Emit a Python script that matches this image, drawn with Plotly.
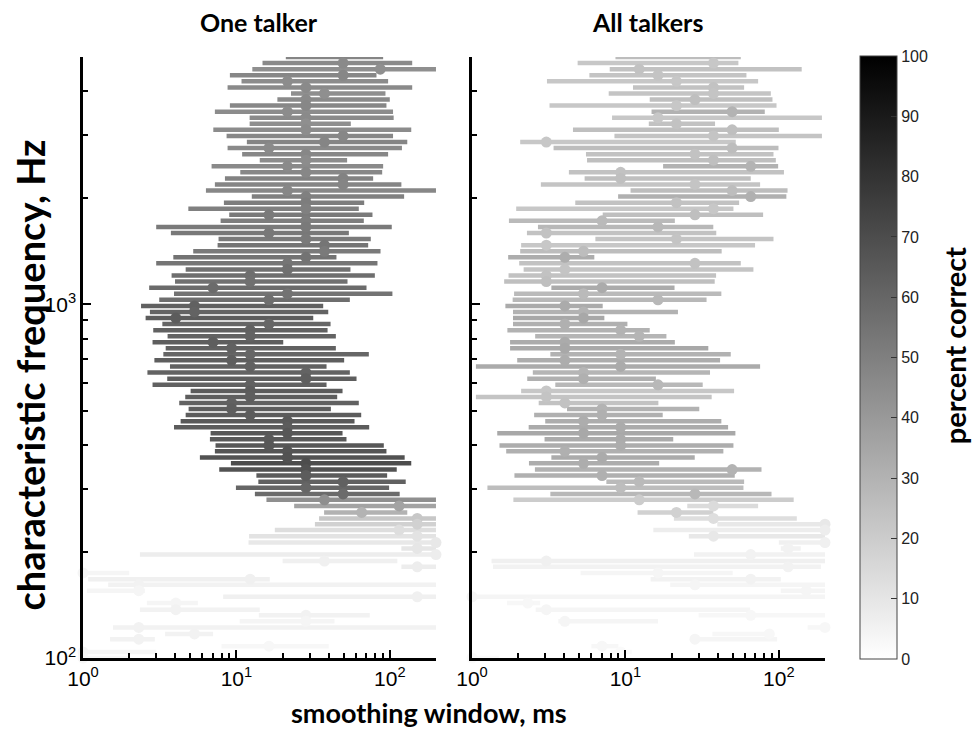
import plotly.graph_objects as go

# characteristic frequency of each channel (Hz), top row first
CF_HZ = [5000, 4806, 4619, 4440, 4268, 4103, 3944, 3791, 3644, 3503,
         3367, 3237, 3112, 2991, 2875, 2764, 2657, 2554, 2455, 2360,
         2269, 2181, 2096, 2015, 1937, 1862, 1790, 1721, 1654, 1590,
         1528, 1469, 1412, 1357, 1305, 1254, 1206, 1159, 1114, 1071,
         1029, 989, 951, 914, 879, 845, 812, 781, 751, 722,
         694, 667, 641, 616, 592, 569, 547, 526, 506, 486,
         467, 449, 432, 415, 399, 384, 369, 355, 341, 328,
         315, 303, 291, 280, 269, 258, 248, 239, 230, 221,
         212, 204, 196, 188, 181, 174, 167, 161, 155, 149,
         143, 137, 132, 127, 122, 117, 113, 108, 104, 100]

# ---------------- One talker ----------------
ONE_BEST = [37.5, 49.6, 86.7, 49.6, 21.5, 28.4, 37.5, 28.4, 28.4, 21.5,
            28.4, 28.4, 28.4, 49.6, 37.5, 16.3, 28.4, 28.4, 21.5, 28.4,
            49.6, 49.6, 21.5, 28.4, 28.4, 28.4, 16.3, 28.4, 28.4, 16.3,
            28.4, 37.5, 37.5, 28.4, 21.5, 21.5, 12.3, 12.3, 7.04, 21.5,
            16.3, 5.33, 5.33, 4.03, 16.3, 12.3, 12.3, 7.04, 9.31, 12.3,
            9.31, 12.3, 28.4, 28.4, 12.3, 12.3, 12.3, 9.31, 9.31, 12.3,
            21.5, 21.5, 21.5, 16.3, 16.3, 21.5, 21.5, 28.4, 28.4, 28.4,
            49.6, 28.4, 49.6, 37.5, 115, 65.6, 151, 151, 115, 151,
            200, 151, 200, 37.5, 151, 1.0, 12.3, 2.31, 2.31, 151,
            4.03, 4.03, 28.4, 28.4, 2.31, 5.33, 2.31, 16.3, 1.0, 1.0]
ONE_LO = [21.0, 14.8, 12.7, 9.07, 10.8, 8.76, 22.7, 18.5, 9.07, 7.24,
          12.2, 12.2, 7.07, 8.63, 11.7, 8.76, 10.9, 14.2, 6.89, 10.6,
          8.42, 7.24, 6.33, 12.6, 8.29, 4.86, 8.98, 7.89, 3.00, 3.74,
          7.65, 7.54, 5.23, 3.88, 3.00, 4.67, 3.78, 3.98, 2.70, 3.92,
          3.14, 2.39, 2.73, 2.56, 3.29, 2.87, 3.56, 2.84, 3.46, 3.34,
          2.92, 3.69, 2.63, 3.54, 2.84, 5.03, 4.64, 4.24, 4.88, 4.67,
          4.33, 3.92, 6.79, 6.72, 7.31, 7.24, 5.78, 9.21, 7.73, 13.5,
          13.9, 9.93, 13.2, 15.7, 23.8, 37.3, 34.6, 32.5, 17.8, 12.1,
          12.0, 119, 2.35, 20.0, 119, 1.0, 1.08, 1.46, 1.06, 8.2,
          2.61, 2.35, 14.0, 10.5, 1.57, 3.43, 1.5, 8.0, 1.0, 1.0]
ONE_HI = [90.5, 140, 200, 81.9, 97.5, 140, 93.7, 100, 95.1, 105,
          106, 55.7, 138, 105, 130, 120, 97.5, 52.7, 90.5, 89.2,
          77.9, 119, 200, 124, 68.1, 62.8, 77.1, 67.7, 103, 54.1,
          75.2, 72.3, 87.0, 44.9, 83.1, 55.4, 79.9, 53.0, 70.5, 104,
          54.9, 36.8, 39.7, 31.7, 41.1, 39.3, 44.5, 20.2, 44.5, 73.0,
          50.4, 38.7, 54.9, 60.7, 38.7, 49.2, 45.4, 62.8, 41.3, 65.1,
          58.9, 73.4, 49.2, 52.2, 91.4, 95.1, 125, 138, 111, 96.1,
          127, 99.0, 116, 200, 200, 130, 200, 200, 200, 200,
          200, 200, 200, 112, 200, 2.0, 16.5, 200, 2.53, 200,
          5.61, 14.2, 74, 43.6, 200, 7.05, 2.94, 40, 3.0, 2.0]
ONE_PCT = [48, 46, 44, 47, 45, 46, 44, 46, 47, 45,
           46, 44, 45, 47, 48, 46, 47, 45, 46, 47,
           49, 48, 47, 50, 51, 50, 52, 51, 52, 53,
           52, 54, 52, 55, 54, 56, 57, 56, 58, 55,
           57, 62, 61, 64, 60, 62, 61, 63, 62, 60,
           63, 62, 61, 63, 62, 64, 63, 62, 63, 64,
           65, 64, 66, 65, 66, 67, 68, 70, 68, 64,
           62, 60, 58, 44, 36, 30, 22, 18, 13, 11,
           9, 10, 7, 6, 7, 4, 6, 5, 4, 6,
           4, 5, 5, 4, 5, 5, 5, 3, 4, 3]

# ---------------- All talkers ----------------
ALL_BEST = [28.4, 37.5, 12.3, 16.3, 21.5, 37.5, 37.5, 28.4, 21.5, 49.6,
            16.3, 21.5, 49.6, 37.5, 3.05, 49.6, 28.4, 37.5, 65.6, 9.31,
            9.31, 28.4, 49.6, 65.6, 21.5, 37.5, 28.4, 7.04, 16.3, 3.05,
            21.5, 3.05, 5.33, 4.03, 28.4, 4.03, 3.05, 3.05, 7.04, 5.33,
            16.3, 4.03, 5.33, 5.33, 4.03, 9.31, 12.3, 4.03, 4.03, 9.31,
            4.03, 9.31, 5.33, 5.33, 16.3, 3.05, 3.05, 4.03, 7.04, 7.04,
            5.33, 9.31, 5.33, 9.31, 9.31, 4.03, 7.04, 5.33, 49.6, 7.04,
            12.3, 9.31, 28.4, 12.3, 37.5, 21.5, 37.5, 200, 200, 37.5,
            200, 115, 65.6, 3.05, 115, 16.3, 65.6, 28.4, 151, 1.0,
            2.31, 3.05, 65.6, 4.03, 200, 86.7, 28.4, 7.04, 9.31, 1.0]
ALL_LO = [8.61, 4.88, 7.90, 5.82, 3.08, 11.2, 7.78, 14.4, 3.20, 14.8,
          8.18, 14.2, 4.55, 8.48, 2.06, 3.40, 5.53, 5.62, 17.6, 4.28,
          5.42, 2.81, 10.8, 8.96, 4.71, 1.94, 7.11, 1.74, 2.69, 2.28,
          6.37, 2.09, 2.06, 1.72, 2.03, 2.17, 1.73, 1.62, 3.29, 1.88,
          1.84, 1.65, 1.85, 1.85, 1.85, 1.70, 2.58, 1.77, 1.77, 3.24,
          1.97, 1.06, 2.49, 2.29, 3.49, 2.09, 1.06, 2.72, 4.16, 2.54,
          3.00, 2.34, 1.46, 2.97, 1.51, 1.67, 3.29, 2.35, 2.57, 1.89,
          7.51, 1.26, 3.24, 1.86, 25.3, 12.0, 20.7, 39.7, 15.2, 25.9,
          100, 103, 28.0, 1.34, 1.37, 5.1, 14.6, 19.6, 103, 1.0,
          1.69, 2.6, 30, 3.65, 154, 36.9, 27.6, 6.0, 8.0, 1.0]
ALL_HI = [56.5, 54.5, 141, 61.5, 73.3, 59.4, 88.7, 90.9, 96.6, 81.0,
          191, 38.4, 100, 191, 52.4, 99.5, 92.3, 95.6, 99.0, 108,
          65.6, 75.5, 114, 112, 55.1, 50.6, 79.0, 21.0, 37.4, 39.1,
          92.3, 70.0, 42.4, 6.27, 56.5, 68.3, 39.0, 38.2, 20.9, 42.2,
          33.8, 7.11, 22.0, 7.29, 10.3, 14.4, 18.5, 21.0, 34.7, 48.6,
          41.4, 75.5, 35.6, 15.8, 31.9, 51.1, 36.5, 16.4, 30.3, 17.5,
          42.2, 46.7, 52.1, 20.5, 50.6, 43.5, 28.3, 16.6, 77.1, 51.6,
          59.4, 58.8, 89.6, 125, 73.3, 37.4, 131, 200, 200, 200,
          200, 139, 200, 200, 188, 50, 103, 200, 200, 200,
          2.78, 65, 200, 16.3, 200, 92.8, 97.5, 9.0, 11.0, 1.5]
ALL_PCT = [26, 22, 24, 23, 22, 24, 23, 25, 22, 30,
           22, 24, 25, 23, 22, 26, 24, 25, 30, 24,
           25, 23, 26, 31, 24, 22, 25, 27, 28, 24,
           23, 22, 26, 32, 24, 23, 24, 25, 33, 27,
           28, 33, 30, 34, 31, 30, 29, 33, 34, 30,
           32, 33, 29, 31, 28, 22, 23, 24, 30, 31,
           32, 33, 34, 33, 32, 31, 33, 32, 30, 31,
           27, 26, 28, 20, 14, 18, 13, 9, 7, 9,
           6, 5, 5, 6, 5, 4, 5, 4, 4, 4,
           3, 4, 3, 4, 3, 3, 4, 3, 2, 2]

X_TICKS = [1, 10, 100]
X_TICKTEXT = ["10<sup>0</sup>", "10<sup>1</sup>", "10<sup>2</sup>"]
X_MINOR = [2, 3, 4, 5, 6, 7, 8, 9, 20, 30, 40, 50, 60, 70, 80, 90, 200]
Y_TICKS = [100, 1000]
Y_TICKTEXT = ["10<sup>2</sup>", "10<sup>3</sup>"]
Y_MINOR = [200, 300, 400, 500, 600, 700, 800, 900, 2000, 3000, 4000, 5000]
CBAR_TICKS = list(range(0, 101, 10))

GRAYSCALE = [[0, "#ffffff"], [1, "#000000"]]


def gray(p):
    v = int(round(255 * (1 - p / 100.0)))
    return f"rgb({v},{v},{v})"


fig = go.Figure()

panels = [
    ("x", "y", ONE_BEST, ONE_LO, ONE_HI, ONE_PCT, True),
    ("x2", "y2", ALL_BEST, ALL_LO, ALL_HI, ALL_PCT, False),
]
for xa, ya, best, lo, hi, pct, scale in panels:
    for i in range(len(CF_HZ)):
        fig.add_trace(go.Scatter(
            x=[lo[i], hi[i]], y=[CF_HZ[i], CF_HZ[i]], mode="lines",
            line=dict(color=gray(pct[i]), width=4.5),
            xaxis=xa, yaxis=ya, hoverinfo="skip", showlegend=False))
    marker = dict(size=11, color=pct, colorscale=GRAYSCALE, cmin=0, cmax=100,
                  line=dict(width=0), showscale=scale)
    if scale:
        marker["colorbar"] = dict(
            x=1.047, xanchor="left", y=0.5, yanchor="middle",
            len=1.004, lenmode="fraction", thickness=37, thicknessmode="pixels",
            tickvals=CBAR_TICKS, ticks="inside", ticklen=6, tickwidth=1,
            tickcolor="#333", outlinewidth=1, outlinecolor="#444",
            tickfont=dict(family="Liberation Sans, Arial", size=16, color="#222"),
            xpad=0, ypad=0)
    fig.add_trace(go.Scatter(
        x=best, y=CF_HZ, mode="markers", marker=marker, cliponaxis=False,
        xaxis=xa, yaxis=ya, hoverinfo="skip", showlegend=False))

axis_font = dict(family="Liberation Sans, Arial", size=21, color="black")
xcommon = dict(type="log", range=[0, 2.30103], showline=True, linecolor="black",
               linewidth=2.5, ticks="inside", ticklen=8, tickwidth=2, tickcolor="black",
               tickvals=X_TICKS, ticktext=X_TICKTEXT, showgrid=False, zeroline=False,
               tickfont=axis_font,
               minor=dict(ticks="inside", tickvals=X_MINOR, ticklen=5, tickwidth=2,
                          tickcolor="black", showgrid=False))
ycommon = dict(type="log", range=[2, 3.69897], showline=True, linecolor="black",
               linewidth=2.5, ticks="inside", ticklen=8, tickwidth=2, tickcolor="black",
               tickvals=Y_TICKS, ticktext=Y_TICKTEXT, showgrid=False, zeroline=False,
               tickfont=axis_font,
               minor=dict(ticks="inside", tickvals=Y_MINOR, ticklen=5, tickwidth=2,
                          tickcolor="black", showgrid=False))

x1 = dict(xcommon); x1.update(domain=[0, 0.4757], anchor="y")
x2 = dict(xcommon); x2.update(domain=[0.5243, 1], anchor="y2")
y1 = dict(ycommon); y1.update(domain=[0, 1], anchor="x")
y2 = dict(ycommon); y2.update(domain=[0, 1], anchor="x2", showticklabels=False)

title_font = dict(family="Lato, Open Sans, sans-serif", size=25, color="black")

fig.update_layout(
    width=979, height=738,
    margin=dict(l=83, r=154, t=57, b=80),
    paper_bgcolor="white", plot_bgcolor="white",
    xaxis=x1, xaxis2=x2, yaxis=y1, yaxis2=y2,
    annotations=[
        dict(text="<b>One talker</b>", x=0.237, y=1.058, xref="paper", yref="paper",
             showarrow=False, font=title_font, xanchor="center", yanchor="middle"),
        dict(text="<b>All talkers</b>", x=0.761, y=1.058, xref="paper", yref="paper",
             showarrow=False, font=title_font, xanchor="center", yanchor="middle"),
        dict(text="<b>smoothing window, ms</b>", x=0.466, y=-0.0915, xref="paper",
             yref="paper", showarrow=False, font=dict(title_font, size=27),
             xanchor="center", yanchor="middle"),
        dict(text="<b>characteristic frequency, Hz</b>", x=-0.0714, y=0.47, xref="paper",
             yref="paper", showarrow=False, font=dict(title_font, size=38),
             textangle=-90, xanchor="center", yanchor="middle"),
        dict(text="<b>percent correct</b>", x=1.175, y=0.52, xref="paper",
             yref="paper", showarrow=False, font=dict(title_font, size=29),
             textangle=-90, xanchor="center", yanchor="middle"),
    ],
)

fig.write_html("out.html")
